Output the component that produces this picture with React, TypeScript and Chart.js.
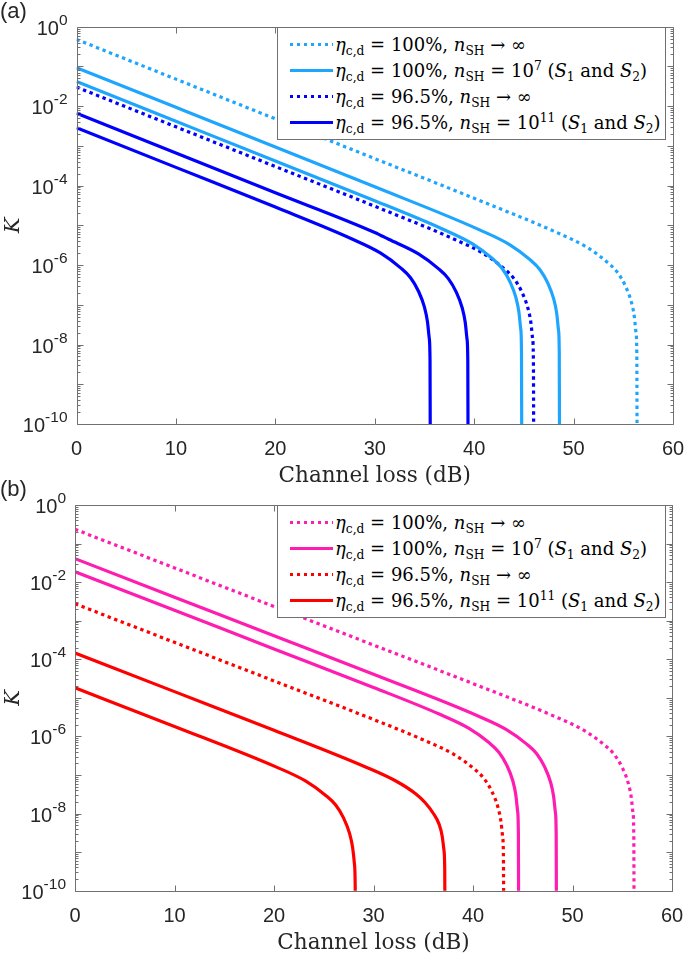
import React, { useEffect, useRef } from 'react';
import { Chart, registerables } from 'chart.js';

Chart.register(...registerables);

// axis ticks
const xTickValues = [0, 10, 20, 30, 40, 50, 60];
const yTickExponents = [0, -2, -4, -6, -8, -10];

// panel (a): eta_c,d = 100% / 96.5%, blue curves
const a100InfLoss = [0, 10, 20, 30, 40, 48.4, 51.4, 53.4, 54.4, 55.2, 55.8, 56.1, 56.28, 56.36, 56.4];
const a100InfK = [4.79e-1, 4.79e-2, 4.79e-3, 4.79e-4, 4.79e-5, 6.46e-6, 2.75e-6, 1.17e-6, 6.61e-7, 3.02e-7, 1.2e-7, 5.25e-8, 2.0e-8, 5.5e-9, 1e-12];
const a100S1Loss = [0, 10, 20, 30, 40.6, 43.6, 45.6, 46.6, 47.4, 48.0, 48.3, 48.48, 48.56, 48.6];
const a100S1K = [9.33e-2, 9.33e-3, 9.33e-4, 9.33e-5, 7.59e-6, 3.24e-6, 1.38e-6, 7.76e-7, 3.55e-7, 1.41e-7, 6.17e-8, 2.34e-8, 6.5e-9, 1e-12];
const a100S2Loss = [0, 10, 20, 30, 36.8, 39.8, 41.8, 42.8, 43.6, 44.2, 44.5, 44.68, 44.76, 44.8];
const a100S2K = [4.17e-2, 4.17e-3, 4.17e-4, 4.17e-5, 8.13e-6, 3.47e-6, 1.48e-6, 8.32e-7, 3.8e-7, 1.51e-7, 6.61e-8, 2.51e-8, 6.9e-9, 1e-12];
const a965InfLoss = [0, 10, 20, 30, 38, 41, 43, 44, 44.8, 45.4, 45.7, 45.88, 45.96, 46.0];
const a965InfK = [3.02e-2, 3.02e-3, 3.02e-4, 3.02e-5, 4.47e-6, 1.91e-6, 8.13e-7, 4.57e-7, 2.09e-7, 8.32e-8, 3.63e-8, 1.38e-8, 3.8e-9, 1e-12];
const a965S1Loss = [0, 10, 20, 30, 31.4, 34.4, 36.4, 37.4, 38.2, 38.8, 39.1, 39.28, 39.36, 39.4];
const a965S1K = [6.61e-3, 6.61e-4, 6.61e-5, 6.61e-6, 4.47e-6, 1.91e-6, 8.13e-7, 4.57e-7, 2.09e-7, 8.32e-8, 3.63e-8, 1.38e-8, 3.8e-9, 1e-12];
const a965S2Loss = [0, 10, 20, 27.6, 30.6, 32.6, 33.6, 34.4, 35.0, 35.3, 35.48, 35.56, 35.6];
const a965S2K = [2.88e-3, 2.88e-4, 2.88e-5, 4.68e-6, 2.0e-6, 8.51e-7, 4.79e-7, 2.19e-7, 8.71e-8, 3.8e-8, 1.45e-8, 4.0e-9, 1e-12];

// panel (b): pink / red curves
const b100InfLoss = [0, 10, 20, 30, 40, 48.2, 51.2, 53.2, 54.2, 55.0, 55.6, 55.9, 56.08, 56.16, 56.2];
const b100InfK = [2.34e-1, 2.34e-2, 2.34e-3, 2.34e-4, 2.34e-5, 3.31e-6, 1.41e-6, 6.03e-7, 3.39e-7, 1.55e-7, 6.17e-8, 2.69e-8, 1.02e-8, 2.8e-9, 1e-12];
const b100S1Loss = [0, 10, 20, 30, 40.4, 43.4, 45.4, 46.4, 47.2, 47.8, 48.1, 48.28, 48.36, 48.4];
const b100S1K = [4.07e-2, 4.07e-3, 4.07e-4, 4.07e-5, 3.47e-6, 1.48e-6, 6.31e-7, 3.55e-7, 1.62e-7, 6.46e-8, 2.82e-8, 1.07e-8, 2.95e-9, 1e-12];
const b100S2Loss = [0, 10, 20, 30, 36.6, 39.6, 41.6, 42.6, 43.4, 44.0, 44.3, 44.48, 44.56, 44.6];
const b100S2K = [1.86e-2, 1.86e-3, 1.86e-4, 1.86e-5, 3.8e-6, 1.62e-6, 6.92e-7, 3.89e-7, 1.78e-7, 7.08e-8, 3.09e-8, 1.17e-8, 3.2e-9, 1e-12];
const b965InfLoss = [0, 10, 20, 30, 35.1, 38.1, 40.1, 41.1, 41.9, 42.5, 42.8, 42.98, 43.06, 43.1];
const b965InfK = [2.75e-3, 2.75e-4, 2.75e-5, 2.75e-6, 7.94e-7, 3.39e-7, 1.45e-7, 8.13e-8, 3.72e-8, 1.48e-8, 6.46e-9, 2.45e-9, 6.8e-10, 1e-12];
const b965S1Loss = [0, 10, 20, 29.2, 32.2, 34.2, 35.2, 36.0, 36.6, 36.9, 37.08, 37.16, 37.2];
const b965S1K = [1.45e-4, 1.45e-5, 1.45e-6, 1.62e-7, 7.08e-8, 3.31e-8, 1.91e-8, 1.02e-8, 5.25e-9, 2.63e-9, 1.12e-9, 3.5e-10, 1e-12];
const b965S2Loss = [0, 10, 20.2, 23.2, 25.2, 26.2, 27.0, 27.6, 27.9, 28.08, 28.16, 28.2];
const b965S2K = [1.82e-5, 1.82e-6, 1.62e-7, 6.92e-8, 2.95e-8, 1.66e-8, 7.59e-9, 3.02e-9, 1.32e-9, 5.0e-10, 1.4e-10, 1e-12];

// legend text
const legendEta = ['100%', '100%', '96.5%', '96.5%'];
const legendNshExp = [null, '7', null, '11'];
const legendDotted = [true, false, true, false];

const LIGHT_BLUE = '#1ea6ff';
const DARK_BLUE = '#0000ff';
const PINK = '#ff1cb0';
const RED = '#ff0000';
const AXIS_COLOR = '#707070';
const TEXT_COLOR = '#262626';

type Curve = { loss: number[]; k: number[]; color: string; dotted: boolean };
type Area = { left: number; right: number; top: number; bottom: number; height: number };

const curvesA: Curve[] = [
  { loss: a100InfLoss, k: a100InfK, color: LIGHT_BLUE, dotted: true },
  { loss: a100S1Loss, k: a100S1K, color: LIGHT_BLUE, dotted: false },
  { loss: a100S2Loss, k: a100S2K, color: LIGHT_BLUE, dotted: false },
  { loss: a965InfLoss, k: a965InfK, color: DARK_BLUE, dotted: true },
  { loss: a965S1Loss, k: a965S1K, color: DARK_BLUE, dotted: false },
  { loss: a965S2Loss, k: a965S2K, color: DARK_BLUE, dotted: false },
];

const curvesB: Curve[] = [
  { loss: b100InfLoss, k: b100InfK, color: PINK, dotted: true },
  { loss: b100S1Loss, k: b100S1K, color: PINK, dotted: false },
  { loss: b100S2Loss, k: b100S2K, color: PINK, dotted: false },
  { loss: b965InfLoss, k: b965InfK, color: RED, dotted: true },
  { loss: b965S1Loss, k: b965S1K, color: RED, dotted: false },
  { loss: b965S2Loss, k: b965S2K, color: RED, dotted: false },
];

const W = 685;

function framePlugin(tag: string) {
  return {
    id: 'frame',
    afterDraw(chart: Chart) {
      const { ctx, chartArea } = chart;
      const xs = chart.scales.x;
      const ys = chart.scales.y;
      const L = Math.round(chartArea.left) + 0.5;
      const R = Math.round(chartArea.right) + 0.5;
      const T = Math.round(chartArea.top) + 0.5;
      const B = Math.round(chartArea.bottom) + 0.5;
      ctx.save();
      ctx.strokeStyle = AXIS_COLOR;
      ctx.lineWidth = 1;
      ctx.beginPath();
      ctx.rect(L, T, R - L, B - T);
      xTickValues.forEach((v) => {
        const px = Math.round(xs.getPixelForValue(v)) + 0.5;
        ctx.moveTo(px, B);
        ctx.lineTo(px, B - 6);
        ctx.moveTo(px, T);
        ctx.lineTo(px, T + 6);
      });
      for (let d = -10; d <= 0; d++) {
        for (let m = 1; m <= 9; m++) {
          const v = m * Math.pow(10, d);
          if (v > 1.0001) break;
          const py = Math.round(ys.getPixelForValue(v)) + 0.5;
          const len = m === 1 ? 6 : 3;
          ctx.moveTo(L, py);
          ctx.lineTo(L + len, py);
          ctx.moveTo(R, py);
          ctx.lineTo(R - len, py);
        }
      }
      ctx.stroke();

      ctx.fillStyle = TEXT_COLOR;
      // x tick labels
      ctx.font = '20px "Liberation Sans"';
      ctx.textAlign = 'center';
      ctx.textBaseline = 'alphabetic';
      xTickValues.forEach((v) => {
        ctx.fillText(String(v), xs.getPixelForValue(v), chartArea.bottom + 31);
      });
      // y tick labels 10^n
      ctx.textAlign = 'left';
      yTickExponents.forEach((e) => {
        const py = ys.getPixelForValue(Math.pow(10, e));
        const expText = e === 0 ? '0' : '-' + String(-e);
        ctx.font = '15.5px "Liberation Sans"';
        const wE = ctx.measureText(expText).width;
        ctx.font = '20px "Liberation Sans"';
        const wB = ctx.measureText('10').width;
        const right = chartArea.left - 9;
        ctx.fillText('10', right - wE - wB, py + 8);
        ctx.font = '15.5px "Liberation Sans"';
        ctx.fillText(expText, right - wE, py - 2);
      });
      // axis titles
      ctx.font = '21.5px "DejaVu Serif"';
      ctx.textAlign = 'center';
      ctx.fillText('Channel loss (dB)', (chartArea.left + chartArea.right) / 2, chartArea.bottom + 58);
      ctx.save();
      ctx.translate(14, (chartArea.top + chartArea.bottom) / 2);
      ctx.rotate(-Math.PI / 2);
      ctx.font = 'italic 21px "DejaVu Serif"';
      ctx.textBaseline = 'middle';
      ctx.fillText('K', 0, 0);
      ctx.restore();
      // panel tag
      ctx.font = '22px "Liberation Sans"';
      ctx.textAlign = 'left';
      ctx.textBaseline = 'alphabetic';
      ctx.fillText(tag, 0, 18);
      ctx.restore();
    },
  };
}

const subStyle: React.CSSProperties = { fontSize: '68%', verticalAlign: '-0.3em', lineHeight: 0, fontStyle: 'normal' };
const supStyle: React.CSSProperties = { fontSize: '68%', verticalAlign: '0.55em', lineHeight: 0 };

function LegendText({ eta, exp }: { eta: string; exp: string | null }) {
  return (
    <span>
      <i>η</i>
      <sub style={subStyle}>c,d</sub>
      {' = ' + eta + ', '}
      <i>n</i>
      <sub style={subStyle}>SH</sub>
      {exp === null ? (
        ' → ∞'
      ) : (
        <>
          {' = 10'}
          <sup style={supStyle}>{exp}</sup>
          {' ('}
          <i>S</i>
          <sub style={subStyle}>1</sub>
          {' and '}
          <i>S</i>
          <sub style={subStyle}>2</sub>
          {')'}
        </>
      )}
    </span>
  );
}

function Legend({ colors }: { colors: string[] }) {
  return (
    <div
      style={{
        position: 'absolute',
        left: 277,
        top: 27,
        width: 389,
        height: 113,
        boxSizing: 'border-box',
        border: '1px solid ' + AXIS_COLOR,
        background: '#fff',
        paddingTop: 3,
        fontFamily: '"DejaVu Serif"',
        fontSize: 18,
        color: '#000',
      }}
    >
      {legendEta.map((eta, i) => (
        <div key={i} style={{ height: 26, display: 'flex', alignItems: 'center', whiteSpace: 'nowrap' }}>
          <div
            style={{
              marginLeft: 12,
              marginRight: 2,
              width: 43,
              height: 3,
              flex: 'none',
              background: legendDotted[i]
                ? `repeating-linear-gradient(to right, ${colors[i]} 0 3.4px, transparent 3.4px 7px)`
                : colors[i],
            }}
          />
          <LegendText eta={eta} exp={legendNshExp[i]} />
        </div>
      ))}
    </div>
  );
}

function Panel({ tag, curves, area, top }: { tag: string; curves: Curve[]; area: Area; top: number }) {
  const ref = useRef<HTMLCanvasElement | null>(null);

  useEffect(() => {
    if (!ref.current) return;
    const chart = new Chart(ref.current, {
      type: 'line',
      data: {
        datasets: curves.map((c) => ({
          data: c.loss.map((x, i) => ({ x, y: c.k[i] })),
          borderColor: c.color,
          borderWidth: 3.2,
          borderDash: c.dotted ? [3.4, 3.6] : [],
          borderCapStyle: 'butt' as const,
          borderJoinStyle: 'round' as const,
          cubicInterpolationMode: 'monotone' as const,
          pointRadius: 0,
          fill: false,
        })),
      },
      options: {
        animation: false,
        responsive: false,
        devicePixelRatio: 1,
        layout: {
          padding: { left: area.left, top: area.top, right: W - area.right, bottom: area.height - area.bottom },
        },
        plugins: { legend: { display: false }, tooltip: { enabled: false } },
        scales: {
          x: { type: 'linear', min: 0, max: 60, display: false },
          y: { type: 'logarithmic', min: 1e-10, max: 1, display: false },
        },
      },
      plugins: [framePlugin(tag)],
    });
    return () => chart.destroy();
  }, [tag, curves, area]);

  return (
    <div style={{ position: 'absolute', left: 0, top, width: W, height: area.height }}>
      <canvas ref={ref} width={W} height={area.height} style={{ display: 'block' }} />
      <Legend colors={curves.filter((_, i) => i !== 2 && i !== 5).map((c) => c.color)} />
    </div>
  );
}

const areaA: Area = { left: 76.5, right: 673, top: 26.7, bottom: 424, height: 490 };
const areaB: Area = { left: 75, right: 672, top: 27, bottom: 412.7, height: 478 };

export default function App() {
  return (
    <div style={{ position: 'absolute', left: 0, top: 0, width: W, height: 956, background: '#fff', overflow: 'hidden' }}>
      <Panel tag="(a)" curves={curvesA} area={areaA} top={0} />
      <Panel tag="(b)" curves={curvesB} area={areaB} top={478} />
    </div>
  );
}
